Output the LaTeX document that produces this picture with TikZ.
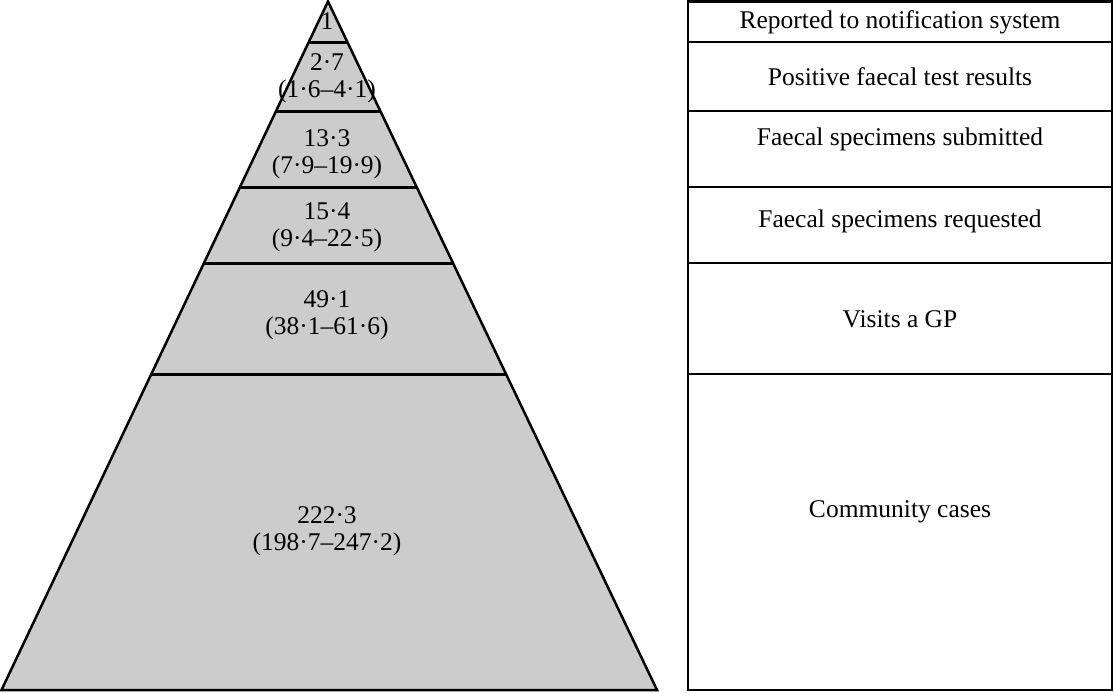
\documentclass[tikz,border=0pt]{standalone}
\usepackage{fontspec}
\setmainfont{Liberation Serif}
\usetikzlibrary{calc}
\tikzset{
  band/.style={line width=2.5pt},
  label/.style={font=\fontsize{25.5}{27}\selectfont, align=center, inner sep=0pt}
}

\begin{document}
\begin{tikzpicture}[x=1pt, y=-1pt]
    \useasboundingbox (0,0) rectangle (1114,693);

    % Pyramid corners
    \coordinate (apex) at (328,1.5);
    \coordinate (bl) at (1.5,690);
    \coordinate (br) at (657,690);

    % Pyramid body
    \fill[gray!40] (apex) -- (bl) -- (br) -- cycle;
    \draw[band, line join=miter] (apex) -- (bl) -- (br) -- cycle;

    % Band borders
    \draw[band] ($(apex)!0.0595!(bl)$) -- ($(apex)!0.0595!(br)$);
    \draw[band] ($(apex)!0.1597!(bl)$) -- ($(apex)!0.1597!(br)$);
    \draw[band] ($(apex)!0.2700!(bl)$) -- ($(apex)!0.2700!(br)$);
    \draw[band] ($(apex)!0.3803!(bl)$) -- ($(apex)!0.3803!(br)$);
    \draw[band] ($(apex)!0.5414!(bl)$) -- ($(apex)!0.5414!(br)$);

    % Values in pyramid
    \node[label] (V1) at (327,21) {1};
    \node[label] (V2) at (327,78) {2·7\\(1·6–4·1)};
    \node[label] (V3) at (327,154) {13·3\\(7·9–19·9)};
    \node[label] (V4) at (327,227) {15·4\\(9·4–22·5)};
    \node[label] (V5) at (327,315) {49·1\\(38·1–61·6)};
    \node[label] (V6) at (327,531) {222·3\\(198·7–247·2)};

    % Right-hand boxes
    \draw[band] (688,1.5) rectangle (1112,690);
    \draw[band] (688,42) -- (1112,42);
    \draw[band] (688,111) -- (1112,111);
    \draw[band] (688,187) -- (1112,187);
    \draw[band] (688,263) -- (1112,263);
    \draw[band] (688,374) -- (1112,374);

    % Level names
    \node[label] (L1) at (900,22) {Reported to notification system};
    \node[label] (L2) at (900,77) {Positive faecal test results};
    \node[label] (L3) at (900,139) {Faecal specimens submitted};
    \node[label] (L4) at (900,221) {Faecal specimens requested};
    \node[label] (L5) at (900,319) {Visits a GP};
    \node[label] (L6) at (900,512) {Community cases};

\end{tikzpicture}
\end{document}
